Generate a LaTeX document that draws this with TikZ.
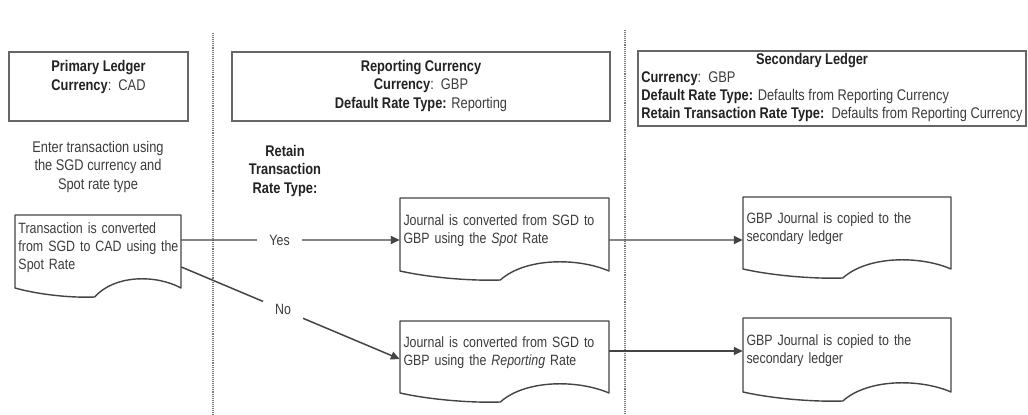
\documentclass[tikz,border=0pt]{standalone}
\usepackage{fontspec}
\setmainfont{Liberation Sans}[FakeStretch=0.83]
\usetikzlibrary{arrows.meta,calc}

\definecolor{inkline}{HTML}{444444}
\definecolor{boxline}{HTML}{666666}
\definecolor{bodytext}{HTML}{3C3C3C}
\definecolor{headtext}{HTML}{222222}
\definecolor{divgray}{HTML}{7A7A7A}

\newcommand\dfont{\fontsize{8.5}{10.2}\selectfont}
\newcommand\hfont{\fontsize{8.8}{10.3}\selectfont}
\newcommand\kw[1]{{\bfseries\color{headtext}#1}}

% document shape: name, left, top, width, side height, text
% (the text block sits a little above the middle of the sheet)
\newcommand\docnode[6]{%
  \pgfmathsetmacro\docw{(#4-7)*0.02}%
  \node[doctext, text width=\docw cm, minimum width=#4*0.02cm,
        minimum height=(#5-8)*0.02cm] (#1) at (#2+#4/2,#3+#5/2-4) {#6};
  \draw[docline] (#2,#3+#5) -- (#2,#3) -- (#2+#4,#3) -- (#2+#4,#3+#5)
    .. controls (#2+0.85*#4,#3+#5-13.5) and (#2+0.6*#4,#3+#5-13.5) .. (#2+0.48*#4,#3+#5+9)
    .. controls (#2+0.35*#4,#3+#5+10) and (#2+0.15*#4,#3+#5+7) .. cycle;
}

\tikzset{
  hdrbox/.style={draw=boxline, line width=1.1pt, shape=rectangle, inner sep=0pt},
  hdrtext/.style={font=\hfont, text=bodytext, inner sep=0pt},
  doctext/.style={font=\dfont, text=bodytext, align=left, shape=rectangle,
                  inner xsep=0.07cm, inner ysep=0pt},
  docline/.style={draw=inkline, line width=0.8pt, line join=round},
  flow/.style={draw=inkline, line width=0.85pt,
               -{Triangle[length=5pt,width=4.6pt]}},
  branch/.style={font=\dfont, text=bodytext, fill=white,
                 inner xsep=7pt, inner ysep=2pt},
  divider/.style={draw=divgray, line width=0.8pt, dash pattern=on 0.55pt off 0.55pt}
}

\begin{document}
\begin{tikzpicture}[x=0.02cm, y=-0.02cm]
\useasboundingbox[fill=white] (0,0) rectangle (1028,415);

% lane dividers
\draw[divider] (213,33) -- (213,415);
\draw[divider] (625,30) -- (625,413);

% lane headers
\node[hdrbox, minimum width=179*0.02cm, minimum height=69*0.02cm] (plbox) at (98.5,86.5) {};
\node[hdrtext, align=center] (pltext) at (98.5,77) {\kw{Primary Ledger}\\\kw{Currency}:\ \ CAD};

\node[hdrbox, minimum width=378*0.02cm, minimum height=69*0.02cm] (rcbox) at (421,86.5) {};
\node[hdrtext, align=center] (rctext) at (421,86) {\kw{Reporting Currency}\\\kw{Currency}:\ \ GBP\\\kw{Default Rate Type:} Reporting};

\node[hdrbox, minimum width=388*0.02cm, minimum height=75*0.02cm] (slbox) at (832,88.5) {};
\node[hdrtext] (sltitle) at (812,60.5) {\kw{Secondary Ledger}};
\node[hdrtext, align=left, anchor=west] (sltext) at (641,97) {\kw{Currency}:\ \ GBP\\\kw{Default Rate Type:} Defaults from Reporting Currency\\\kw{Retain Transaction Rate Type:}\ \ Defaults from Reporting Currency};

% lane notes
\node[hdrtext, align=center] (enter) at (98,167) {Enter transaction using\\the SGD currency and\\Spot rate type};
\node[hdrtext, align=center] (retain) at (285,171) {\kw{Retain}\\\kw{Transaction}\\\kw{Rate Type:}};

% documents
\docnode{pd}{15}{215}{166}{73}{\mbox{Transaction is converted}\\\mbox{from SGD to CAD using the}\\\mbox{Spot Rate}}
\docnode{jspot}{400}{198}{209}{73}{\mbox{Journal is converted from SGD to}\\\mbox{GBP using the \textit{Spot} Rate}}
\docnode{jrep}{400}{321}{209}{72}{\mbox{Journal is converted from SGD to}\\\mbox{GBP using the \textit{Reporting} Rate}}
\docnode{sspot}{743}{197}{208}{72}{\mbox{GBP Journal is copied to the}\\\mbox{secondary ledger}}
\docnode{srep}{743}{318}{208}{74}{\mbox{GBP Journal is copied to the}\\\mbox{secondary ledger}}

% flows
\draw[flow] ($(pd.east)+(0,-7.5)$) -- node[branch, pos=0.45] (yes) {Yes} ($(jspot.west)+(0,9.5)$);
\draw[flow] ($(pd.east)+(0,19.5)$) -- node[branch, pos=0.466] (no) {No} ($(jrep.west)+(0,6)$);
\draw[flow] ($(jspot.east)+(0,9.5)$) -- ($(sspot.west)+(0,11)$);
\draw[flow] ($(jrep.east)+(0,-2)$) -- ($(srep.west)+(0,0)$);
\end{tikzpicture}
\end{document}
